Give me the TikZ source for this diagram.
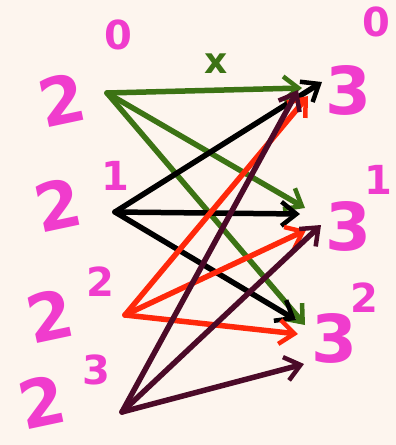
\documentclass[tikz,border=0pt]{standalone}
\usepackage{fontspec}
\setmainfont{DejaVu Sans}
\usetikzlibrary{arrows.meta}
\definecolor{paper}{RGB}{253,245,238}
\definecolor{digitpink}{RGB}{240,60,205}
\definecolor{arrgreen}{RGB}{60,115,20}
\definecolor{arrred}{RGB}{255,40,10}
\definecolor{arrmaroon}{RGB}{75,10,40}

\begin{document}
\begin{tikzpicture}[x=1pt,y=-1pt,
    base/.style={text=digitpink, font=\fontsize{66}{66}\selectfont\bfseries, inner sep=0pt, rotate=12},
    expo/.style={text=digitpink, font=\fontsize{40}{40}\selectfont\bfseries, inner sep=0pt},
    mapline/.style={line width=5.5pt, line cap=round, line join=round,
      -{Straight Barb[length=15pt,width=24pt,line width=4.5pt]}}]
  \fill[paper] (0,0) rectangle (396,445);
  \useasboundingbox (0,0) rectangle (396,445);

  % powers of two
  \node[base] (twoA) at (62,100) {2};
  \node[expo] (expA) at (118,35) {0};
  \node[base] (twoB) at (58,205) {2};
  \node[expo] (expB) at (115,176) {1};
  \node[base] (twoC) at (50,316) {2};
  \node[expo] (expC) at (100,282) {2};
  \node[base] (twoD) at (42,402) {2};
  \node[expo] (expD) at (96,370) {3};

  % powers of three
  \node[base, rotate=-12] (threeA) at (348,90) {3};
  \node[expo] (exA) at (376,22) {0};
  \node[base, rotate=-12] (threeB) at (348,226) {3};
  \node[expo] (exB) at (378,180) {1};
  \node[base, rotate=-12] (threeC) at (334,338) {3};
  \node[expo] (exC) at (364,298) {2};

  \node[text=arrgreen, font=\fontsize{36}{36}\selectfont\bfseries] (lblx) at (216,64) {x};

  % start points
  \coordinate (srcA) at (107,93);
  \coordinate (srcB) at (115,212);
  \coordinate (srcC) at (125,315);
  \coordinate (srcD) at (122,412);
  % end points, one set per colour
  \coordinate (gA) at (302,88);  \coordinate (gB) at (305,208); \coordinate (gC) at (305,325);
  \coordinate (kA) at (322,82);  \coordinate (kB) at (300,214); \coordinate (kC) at (296,320);
  \coordinate (rA) at (308,96);  \coordinate (rB) at (306,230); \coordinate (rC) at (298,334);
  \coordinate (mA) at (298,90);  \coordinate (mB) at (321,225); \coordinate (mC) at (304,364);

  \foreach \t in {gA,gB,gC}
    \draw[mapline, arrgreen] (srcA) -- (\t);
  \foreach \t in {kA,kB,kC}
    \draw[mapline, black] (srcB) -- (\t);
  \foreach \t in {rA,rB,rC}
    \draw[mapline, arrred] (srcC) -- (\t);
  \foreach \t in {mA,mB,mC}
    \draw[mapline, arrmaroon] (srcD) -- (\t);
\end{tikzpicture}
\end{document}
